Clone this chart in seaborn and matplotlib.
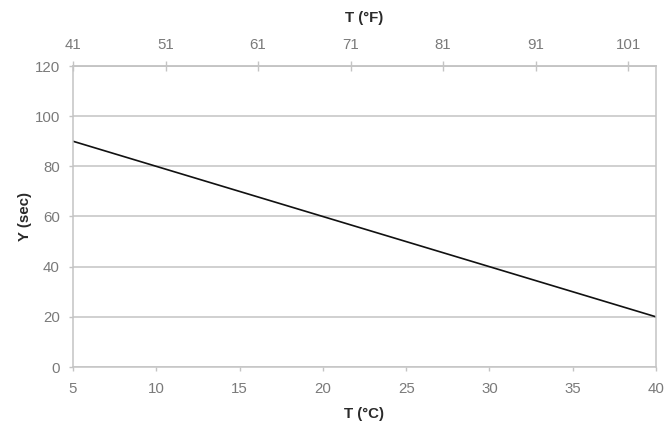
import matplotlib
matplotlib.use("Agg")
import matplotlib.pyplot as plt
import seaborn as sns
import pandas as pd

# Series: response time versus temperature
temp_c = [5, 40]
time_sec = [90, 20]

# Axis ticks
c_ticks = [5, 10, 15, 20, 25, 30, 35, 40]
f_ticks = [41, 51, 61, 71, 81, 91, 101]
y_ticks = [0, 20, 40, 60, 80, 100, 120]

sns.set_theme(style="white")
plt.rcParams["font.family"] = ["Liberation Sans", "DejaVu Sans"]

grey = "#c4c4c4"
label_grey = "#7a7a7a"
title_col = "#2a2a2a"
fs = 10.8

fig = plt.figure(figsize=(6.67, 4.23), dpi=100)
ax = fig.add_axes([73 / 667, 1 - 367 / 423, (656 - 73) / 667, (367 - 66) / 423])

df = pd.DataFrame({"T": temp_c, "Y": time_sec})
sns.lineplot(data=df, x="T", y="Y", ax=ax, color="#111111", linewidth=1.2)

ax.set_xlim(5, 40)
ax.set_ylim(0, 120)
ax.set_xticks(c_ticks)
ax.set_yticks(y_ticks)
ax.yaxis.grid(True, color=grey, linewidth=1.1)
ax.set_axisbelow(True)

for side in ["left", "right", "bottom", "top"]:
    ax.spines[side].set_color(grey)
    ax.spines[side].set_linewidth(1.1)

ax.tick_params(axis="both", which="major", direction="out", length=3, width=1,
               color=grey, labelsize=fs, labelcolor=label_grey, pad=6,
               bottom=True, left=True)
ax.tick_params(axis="y", pad=6.5)
ax.tick_params(axis="x", pad=7.5)

ax.set_xlabel("T (°C)", fontsize=fs, fontweight="bold", color=title_col, labelpad=8)
ax.set_ylabel("Y (sec)", fontsize=fs, fontweight="bold", color=title_col, labelpad=2)


def c2f(c):
    return c * 9 / 5 + 32


def f2c(f):
    return (f - 32) * 5 / 9


sec = ax.secondary_xaxis("top", functions=(c2f, f2c))
sec.set_xticks(f_ticks)
sec.spines["top"].set_color(grey)
sec.spines["top"].set_linewidth(1.1)
sec.tick_params(axis="x", direction="inout", length=6.5, width=1, color=grey,
                labelsize=fs, labelcolor=label_grey, pad=7)
sec.set_xlabel("T (°F)", fontsize=fs, fontweight="bold", color=title_col, labelpad=11)

fig.savefig("out.png", dpi=100, facecolor="white")
